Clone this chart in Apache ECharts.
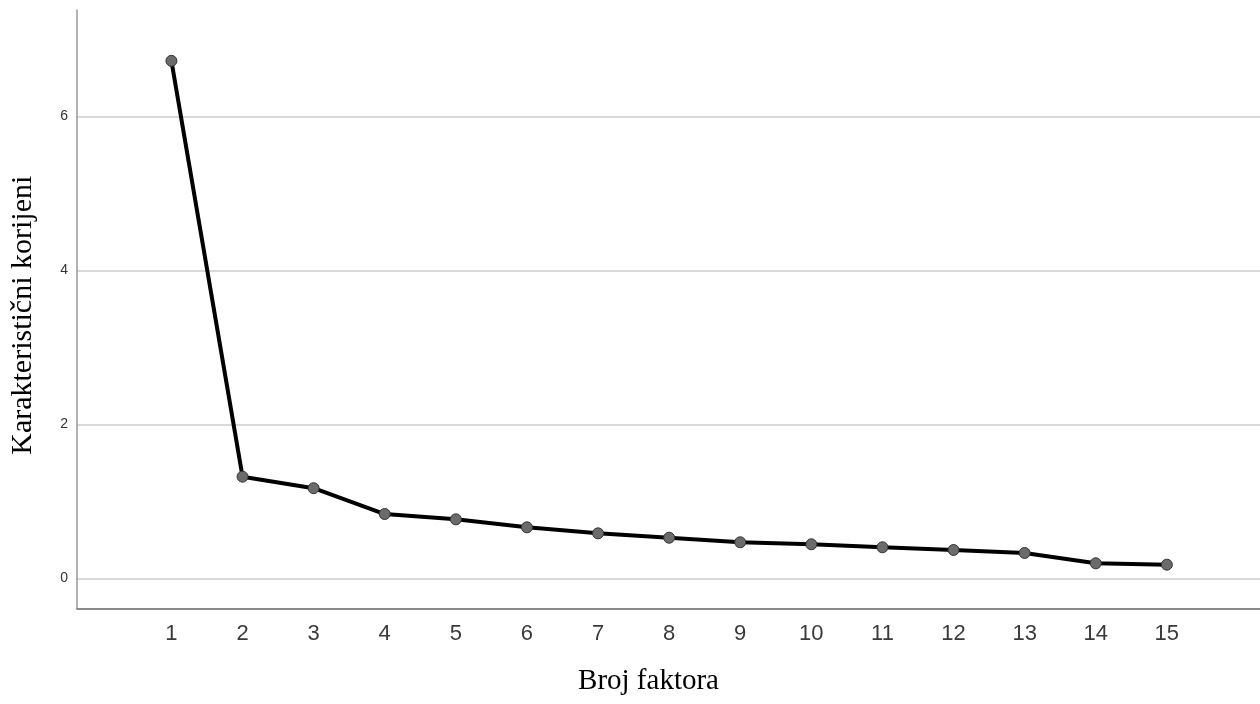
<!DOCTYPE html>
<html>
<head>
<meta charset="utf-8">
<script src="https://cdn.jsdelivr.net/npm/echarts@6/dist/echarts.min.js"></script>
<style>html,body{margin:0;padding:0;background:#fff}#c{width:1260px;height:704px}</style>
</head>
<body>
<div id="c"></div>
<script>
const factors = [1, 2, 3, 4, 5, 6, 7, 8, 9, 10, 11, 12, 13, 14, 15];
const eigenvalues = [6.72, 1.32, 1.17, 0.835, 0.766, 0.662, 0.584, 0.527, 0.468, 0.442, 0.403, 0.368, 0.329, 0.195, 0.177];
const yTicks = [0, 2, 4, 6];
const xTitle = 'Broj faktora';
const yTitle = 'Karakteristični korijeni';

const chart = echarts.init(document.getElementById('c'), null, {renderer: 'canvas'});
chart.setOption({
  animation: false,
  backgroundColor: '#ffffff',
  grid: {left: 76, right: 0, top: 10, bottom: 95.5, containLabel: false},
  xAxis: {
    type: 'value',
    min: -0.328,
    max: 16.31,
    name: xTitle,
    nameLocation: 'middle',
    nameGap: 58,
    nameTextStyle: {fontFamily: 'Liberation Serif', fontSize: 29, color: '#000', padding: [0, 40, 0, 0]},
    axisLine: {show: true, onZero: false, lineStyle: {color: '#666', width: 1.5}},
    axisTick: {show: false},
    splitLine: {show: false},
    axisLabel: {
      customValues: factors,
      fontFamily: 'Liberation Sans',
      fontSize: 22,
      color: '#3a3a3a',
      margin: 14
    }
  },
  yAxis: {
    type: 'value',
    min: -0.392,
    max: 7.38,
    name: yTitle,
    nameLocation: 'middle',
    nameRotate: 90,
    nameGap: 39,
    nameTextStyle: {fontFamily: 'Liberation Serif', fontSize: 30, color: '#000', padding: [0, 12, 0, 0]},
    axisLine: {show: true, onZero: false, lineStyle: {color: '#999', width: 1.5}},
    axisTick: {show: false, customValues: yTicks},
    splitLine: {show: true, lineStyle: {color: '#cccccc', width: 1.5}},
    axisLabel: {
      customValues: yTicks,
      fontFamily: 'Liberation Sans',
      fontSize: 14,
      color: '#333',
      margin: 9
    }
  },
  series: [{
    type: 'line',
    data: factors.map((f, i) => [f, eigenvalues[i]]),
    lineStyle: {color: '#000', width: 4},
    symbol: 'circle',
    symbolSize: 11,
    itemStyle: {color: '#6b6b6b', borderColor: '#333', borderWidth: 1},
    z: 3
  }]
});
</script>
</body>
</html>
